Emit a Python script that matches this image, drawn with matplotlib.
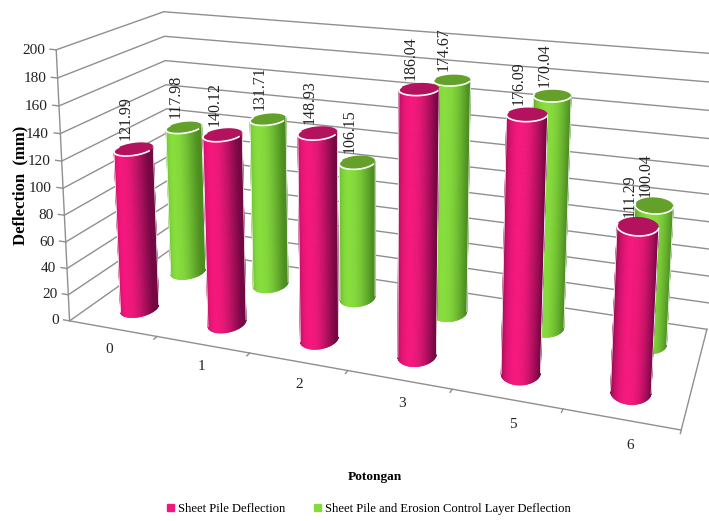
import numpy as np
import matplotlib
matplotlib.use('Agg')
import matplotlib.pyplot as plt
from matplotlib.patches import Patch
from mpl_toolkits.mplot3d import proj3d
from mpl_toolkits.mplot3d.art3d import Poly3DCollection

plt.rcParams['font.family'] = ['Liberation Serif', 'DejaVu Serif']

categories = ['0', '1', '2', '3', '5', '6']
sheet_pile = [121.99, 140.12, 148.93, 186.04, 176.09, 111.29]
sheet_pile_erosion = [117.98, 131.71, 106.15, 174.67, 170.04, 100.04]
z_ticks = [0, 20, 40, 60, 80, 100, 120, 140, 160, 180, 200]

W, H = 709, 521
DEPTH = 2.0

# camera: box corners (x, y, z) and where they land in pixels
box_world = [(0, 0, 0), (6, 0, 0), (6, DEPTH, 0), (0, DEPTH, 0),
             (0, 0, 200), (0, DEPTH, 200), (6, DEPTH, 200)]
box_pixels = [(69, 319), (681, 432), (707, 327), (172, 251),
              (57, 50), (163, 11), (722, 55)]


def fit_camera(world, pixels):
    rows = []
    for (x, y, z), (u, v) in zip(world, pixels):
        rows.append([x, y, z, 1, 0, 0, 0, 0, -u*x, -u*y, -u*z, -u])
        rows.append([0, 0, 0, 0, x, y, z, 1, -v*x, -v*y, -v*z, -v])
    P = np.linalg.svd(np.array(rows, dtype=float))[2][-1].reshape(3, 4)
    return P / (P[2] @ np.array([3, 1, 100, 1]))


P = fit_camera(box_world, box_pixels)
# camera position, used to keep only the faces that look towards it
eye = np.linalg.svd(P)[2][-1]
eye = eye[:3]/eye[3]

fig = plt.figure(figsize=(W/100, H/100), dpi=100)
# 3d axes stay square, so make them as tall as the figure is wide
ax = fig.add_axes([0, -(W - H)/2/H, 1, W/H], projection='3d', computed_zorder=False)
ax.set_axis_off()
ax.apply_aspect()
to_view = ax.transData.inverted().get_matrix() @ np.array([[1, 0, 0], [0, -1, H], [0, 0, 1]], dtype=float)
Q = to_view @ P
M = np.array([Q[0], Q[1], [0, 0, 0, -1], Q[2]])
ax.get_proj = lambda: M


def label(x, y, z, s, dx=0, dy=0, **kw):
    # place text at a projected 3d point so it can stay upright
    x2, y2, _ = proj3d.proj_transform(x, y, z, M)
    ax.annotate(s, xy=(x2, y2), xytext=(dx, dy), textcoords='offset pixels', color='#222222', **kw)


GRID = '#8f8f8f'
for z in z_ticks:
    ax.plot([0, 0, 6], [0, DEPTH, DEPTH], [z, z, z], color=GRID, lw=1.0, zorder=1)
    ax.plot([-0.07, 0], [0, 0], [z, z], color=GRID, lw=1.0, zorder=1)
    label(-0.13, 0, z, str(z), dy=-2, ha='right', va='center', fontsize=11)
ax.plot([0, 0], [0, 0], [0, 200], color=GRID, lw=1.0, zorder=1)
ax.plot([0, 6, 6], [0, 0, DEPTH], [0, 0, 0], color=GRID, lw=1.0, zorder=1)
for c in range(1, 7):
    ax.plot([c, c], [0, -0.06], [0, 0], color=GRID, lw=1.0, zorder=1)
for c, name in enumerate(categories):
    label(c + 0.62, -0.25, -6, name, ha='center', va='center', fontsize=11)


def cylinder(xc, yc, height, bright, dark, top, zorder):
    rx, ry = 0.175, 0.23
    # start at the back of the circle so the visible faces run in one piece
    t = np.linspace(np.pi/2, 2.5*np.pi, 181)
    X = xc + rx*np.cos(t)
    Y = yc + ry*np.sin(t)
    # outward normal of the wall against the direction to the camera
    facing = np.cos(t)/rx*(eye[0] - X) + np.sin(t)/ry*(eye[1] - Y)
    ks = [k for k in range(len(t) - 1) if facing[k] > 0 and facing[k+1] > 0]
    side = [[(X[k], Y[k], 0), (X[k+1], Y[k+1], 0), (X[k+1], Y[k+1], height), (X[k], Y[k], height)] for k in ks]
    light = np.clip(np.cos(t[ks] + np.pi/2), 0, 1)**1.6
    cols = np.array(dark)[None, :] + light[:, None]*(np.array(bright) - np.array(dark))
    ax.add_collection3d(Poly3DCollection(side, facecolors=cols, edgecolors=cols, linewidths=0.4, zorder=zorder))
    ax.add_collection3d(Poly3DCollection([list(zip(X, Y, np.full_like(t, height)))],
                                         facecolor=top, edgecolor='none', zorder=zorder + 0.1))
    rim = np.linspace(np.pi, 2*np.pi, 61)
    ax.plot(xc + rx*np.cos(rim), yc + ry*np.sin(rim), np.full_like(rim, height), color='white', lw=1.2,
            zorder=zorder + 0.2)
    for k in (ks[0], ks[-1] + 1):
        ax.plot([X[k], X[k]], [Y[k], Y[k]], [0, height], color='white', lw=0.6, zorder=zorder + 0.2)


MAG = ((0.96, 0.09, 0.49), (0.45, 0.03, 0.26), '#b3125f')
GRN = ((0.53, 0.87, 0.24), (0.30, 0.55, 0.13), '#64a02a')

for i, v in enumerate(sheet_pile_erosion):
    cylinder(i + 0.5, 1.5, v, *GRN, zorder=2 + i*0.5)
for i, v in enumerate(sheet_pile):
    cylinder(i + 0.5, 0.5, v, *MAG, zorder=6 + i*0.5)

for i, (a, b) in enumerate(zip(sheet_pile, sheet_pile_erosion)):
    for yc, v in ((0.5, a), (1.5, b)):
        label(i + 0.5, yc, v, '%.2f' % v, dx=-8, dy=9, rotation=90, ha='center', va='bottom',
              fontsize=11.5, zorder=20)

fig.text(20/W, 1 - 185/H, 'Deflection  (mm)', rotation=90, ha='center', va='center', fontsize=12, fontweight='bold')
fig.text(375/W, 1 - 477/H, 'Potongan', ha='center', va='center', fontsize=9.6, fontweight='bold')
fig.legend(handles=[Patch(color='#f0177f'), Patch(color='#84dc3c')],
           labels=['Sheet Pile Deflection', 'Sheet Pile and Erosion Control Layer Deflection'],
           loc='center', bbox_to_anchor=(369/W, 1 - 509/H), ncol=2, frameon=False, fontsize=9.1,
           handlelength=0.55, handleheight=0.55, handletextpad=0.3, columnspacing=2.3)

fig.savefig('out.png', dpi=100)
